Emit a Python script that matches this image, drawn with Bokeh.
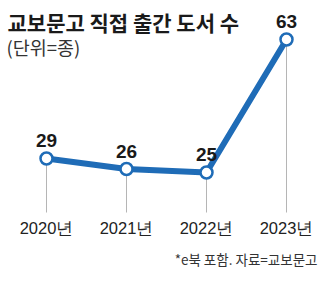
from bokeh.plotting import figure
from bokeh.models import Range1d, Label, ColumnDataSource
from bokeh.core.properties import value
from bokeh.embed import file_html
from bokeh.resources import INLINE

years = ["2020년", "2021년", "2022년", "2023년"]
counts = [29, 26, 25, 63]
count_labels = ["29", "26", "25", "63"]
title_text = "교보문고 직접 출간 도서 수"
unit_text = "(단위=종)"
source_text = "*e북 포함. 자료=교보문고"

W, H = 336, 303
X0, DX = 46, 80          # pixel of first category, spacing
Y29, PPU = 158, 3.5      # pixel of value 29, pixels per unit

def px(xp):
    return (xp - X0) / DX

def py(yp):
    return 29 + (Y29 - yp) / PPU

p = figure(width=W, height=H, output_backend="svg", toolbar_location=None,
           x_range=Range1d(px(0), px(W)), y_range=Range1d(py(H), py(0)),
           min_border=0, outline_line_color=None)
p.xaxis.visible = False
p.yaxis.visible = False
p.grid.visible = False
p.background_fill_color = "white"
p.border_fill_color = "white"

xs = list(range(len(years)))
src = ColumnDataSource(dict(x=xs, y=counts, lab=count_labels, yr=years,
                            ybot=[py(212)] * len(xs), yyr=[py(227)] * len(xs)))

p.segment(x0="x", y0="y", x1="x", y1="ybot", source=src, line_color="#b5b5b5", line_width=1)
p.line(x="x", y="y", source=src, line_color="#1f6cb7", line_width=6, line_join="round")
p.scatter(x="x", y="y", source=src, size=12, fill_color="white", line_color="#1f6cb7", line_width=2.5)

p.text(x="x", y="y", text="lab", source=src, y_offset=-18, text_align="center",
       text_baseline="middle", text_font=value("Liberation Sans"),
       text_font_style="bold", text_font_size="19px", text_color="#1a1a1a")
p.text(x="x", y="yyr", text="yr", source=src, text_align="center",
       text_baseline="middle", text_font=value("Liberation Sans"),
       text_font_size="16.5px", text_color="#222222")

p.add_layout(Label(x=px(7), y=py(21), text=title_text, text_font="Noto Sans CJK KR",
                   text_font_style="bold", text_font_size="21px", text_color="#1a1a1a",
                   text_baseline="middle", text_align="left"))
p.add_layout(Label(x=px(6), y=py(46), text=unit_text, text_font="Noto Sans CJK KR",
                   text_font_size="18.5px", text_color="#333333",
                   text_baseline="middle", text_align="left"))
p.add_layout(Label(x=px(317), y=py(258), text=source_text, text_font="Noto Sans CJK KR",
                   text_font_size="13.5px", text_color="#333333",
                   text_baseline="middle", text_align="right"))

open("out.html", "w").write(file_html(p, INLINE))
